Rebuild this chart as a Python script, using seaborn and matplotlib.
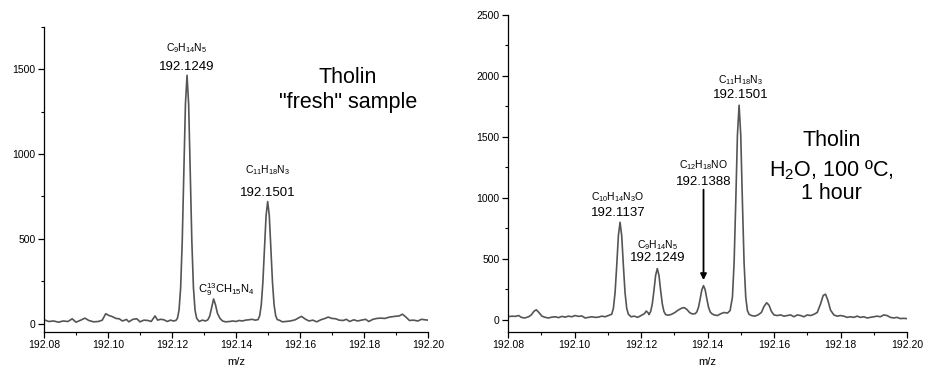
import numpy as np
import pandas as pd
import matplotlib
matplotlib.use("Agg")
import matplotlib.pyplot as plt
import seaborn as sns
from matplotlib.ticker import MultipleLocator, FormatStrFormatter

# ---------------- data ----------------
fresh_mz = [
    192.0800, 192.0815, 192.0830, 192.0845, 192.0860, 192.0875, 192.0888, 192.0900,
    192.0915, 192.0928, 192.0940, 192.0955, 192.0970, 192.0982, 192.0993, 192.1002,
    192.1012, 192.1025, 192.1035, 192.1045, 192.1058, 192.1065, 192.1078, 192.1090,
    192.1100, 192.1112, 192.1125, 192.1135, 192.1147, 192.1155, 192.1165, 192.1175,
    192.1185, 192.1195, 192.1205, 192.1212,
    192.1217, 192.1222, 192.1227, 192.1232, 192.1237, 192.1242, 192.1247, 192.1252,
    192.1257, 192.1262, 192.1267, 192.1272, 192.1277,
    192.1285, 192.1295, 192.1305, 192.1312, 192.1318, 192.1324, 192.1330, 192.1336,
    192.1342, 192.1350, 192.1358, 192.1368, 192.1380, 192.1390, 192.1400, 192.1410,
    192.1420, 192.1430, 192.1440, 192.1450, 192.1460,
    192.1469, 192.1474, 192.1479, 192.1484, 192.1489, 192.1494, 192.1499, 192.1504,
    192.1509, 192.1514, 192.1519, 192.1524, 192.1529,
    192.1535, 192.1545, 192.1555, 192.1570, 192.1585, 192.1597, 192.1605, 192.1615,
    192.1628, 192.1640, 192.1652, 192.1665, 192.1678, 192.1688, 192.1700, 192.1712,
    192.1722, 192.1735, 192.1745, 192.1755, 192.1768, 192.1780, 192.1792, 192.1805,
    192.1815, 192.1828, 192.1840, 192.1852, 192.1865, 192.1880, 192.1895, 192.1910,
    192.1920, 192.1930, 192.1942, 192.1955, 192.1968, 192.1980, 192.1990, 192.2000,
]
fresh_int = [
    22, 12, 15, 8, 15, 12, 28, 8,
    20, 32, 18, 10, 12, 20, 58, 48,
    42, 30, 28, 15, 24, 10, 25, 28,
    10, 20, 18, 12, 45, 20, 25, 22,
    12, 20, 15, 18,
    31, 79, 211, 486, 894, 1295, 1465, 1295,
    894, 486, 211, 79, 31,
    12, 20, 15, 22, 45, 95, 145, 110,
    60, 30, 15, 10, 12, 15, 12, 18,
    15, 20, 22, 25, 20,
    23, 46, 110, 244, 443, 637, 720, 637,
    443, 244, 110, 46, 23,
    20, 10, 12, 15, 22, 35, 42, 28,
    15, 20, 10, 22, 30, 38, 30, 28,
    20, 18, 25, 12, 22, 15, 20, 25,
    12, 25, 30, 32, 30, 38, 42, 45,
    55, 40, 18, 20, 15, 25, 22, 20,
]

heated_mz = [
    192.0800, 192.0812, 192.0822, 192.0832, 192.0840, 192.0850, 192.0862, 192.0870,
    192.0878, 192.0885, 192.0893, 192.0902, 192.0912, 192.0922, 192.0932, 192.0942,
    192.0952, 192.0962, 192.0972, 192.0982, 192.0992, 192.1002, 192.1012, 192.1022,
    192.1032, 192.1042, 192.1052, 192.1062, 192.1072, 192.1082, 192.1092, 192.1102,
    192.1112, 192.1117, 192.1122, 192.1127, 192.1132, 192.1137, 192.1142, 192.1147,
    192.1152, 192.1157, 192.1162,
    192.1170, 192.1180, 192.1190, 192.1200, 192.1210, 192.1216, 192.1222,
    192.1224, 192.1229, 192.1234, 192.1239, 192.1244, 192.1249, 192.1254, 192.1259,
    192.1264, 192.1269, 192.1274,
    192.1282, 192.1292, 192.1302, 192.1312, 192.1322, 192.1330, 192.1338, 192.1346,
    192.1354, 192.1360,
    192.1363, 192.1368, 192.1373, 192.1378, 192.1383, 192.1388, 192.1393, 192.1398,
    192.1403, 192.1408, 192.1413,
    192.1420, 192.1430, 192.1440, 192.1450, 192.1460, 192.1468,
    192.1475, 192.1480, 192.1485, 192.1490, 192.1495, 192.1500, 192.1505, 192.1510,
    192.1515, 192.1520, 192.1525,
    192.1532, 192.1542, 192.1552, 192.1562, 192.1570, 192.1578, 192.1585, 192.1592,
    192.1600, 192.1610, 192.1620, 192.1630, 192.1640, 192.1650, 192.1660, 192.1670,
    192.1680, 192.1690, 192.1700, 192.1710, 192.1720, 192.1730, 192.1740, 192.1748,
    192.1755, 192.1762, 192.1770, 192.1780, 192.1790, 192.1800, 192.1810, 192.1820,
    192.1830, 192.1840, 192.1850, 192.1860, 192.1870, 192.1880, 192.1890, 192.1900,
    192.1910, 192.1920, 192.1930, 192.1940, 192.1950, 192.1960, 192.1970, 192.1980,
    192.1990, 192.2000,
]
heated_int = [
    25, 30, 28, 35, 20, 15, 25, 40,
    70, 82, 60, 30, 20, 15, 22, 25,
    18, 28, 22, 30, 25, 35, 28, 32,
    15, 20, 25, 20, 22, 30, 25, 35,
    46, 95, 222, 445, 690, 800, 690, 445,
    222, 95, 46,
    25, 30, 20, 35, 50, 72, 55,
    43, 68, 131, 242, 365, 420, 365, 242,
    131, 68, 43,
    38, 45, 60, 80, 95, 100, 85, 60,
    48, 50,
    50, 65, 104, 172, 246, 280, 246, 172,
    104, 65, 50,
    40, 35, 50, 60, 55, 76,
    186, 468, 967, 1514, 1760, 1514, 967, 468,
    186, 76, 45,
    35, 30, 40, 60, 110, 140, 120, 70,
    40, 35, 40, 30, 35, 40, 25, 40,
    35, 25, 40, 35, 45, 60, 130, 200,
    210, 160, 80, 40, 30, 35, 30, 20,
    25, 20, 30, 20, 25, 15, 20, 25,
    30, 25, 40, 35, 20, 15, 20, 10,
    12, 10,
]

# peak labels
fresh_labels_mz = [192.1247, 192.1499]
fresh_labels_int = [1465, 720]
fresh_labels_formula = [r"C$_{9}$H$_{14}$N$_{5}$", r"C$_{11}$H$_{18}$N$_{3}$"]
fresh_labels_mass = ["192.1249", "192.1501"]

iso_label_mz = 192.1330
iso_label_int = 145
iso_label_text = r"C$_{9}^{13}$CH$_{15}$N$_{4}$"

heated_labels_mz = [192.1137, 192.1249, 192.1500]
heated_labels_int = [800, 420, 1760]
heated_labels_formula = [r"C$_{10}$H$_{14}$N$_{3}$O", r"C$_{9}$H$_{14}$N$_{5}$",
                         r"C$_{11}$H$_{18}$N$_{3}$"]
heated_labels_mass = ["192.1137", "192.1249", "192.1501"]

arrow_peak_mz = 192.1388
arrow_peak_int = 280
arrow_formula = r"C$_{12}$H$_{18}$NO"
arrow_mass = "192.1388"

xticks = [192.08, 192.10, 192.12, 192.14, 192.16, 192.18, 192.20]

# ---------------- style ----------------
sns.set_style("ticks")
plt.rcParams["font.family"] = ["Liberation Sans", "DejaVu Sans"]
plt.rcParams["mathtext.fontset"] = "custom"
plt.rcParams["mathtext.rm"] = "Liberation Sans"
plt.rcParams["mathtext.it"] = "Liberation Sans:italic"
plt.rcParams["mathtext.bf"] = "Liberation Sans:bold"
plt.rcParams["text.color"] = "black"
plt.rcParams["axes.labelcolor"] = "black"
plt.rcParams["xtick.color"] = "black"
plt.rcParams["ytick.color"] = "black"

LINE = "#555555"

fig = plt.figure(figsize=(9.33, 3.78), dpi=100)
ax1 = fig.add_axes([44 / 933, 1 - 332 / 378, 384 / 933, 305 / 378])
ax2 = fig.add_axes([508 / 933, 1 - 332 / 378, 399 / 933, 317 / 378])

df1 = pd.DataFrame({"mz": fresh_mz, "I": fresh_int})
df2 = pd.DataFrame({"mz": heated_mz, "I": heated_int})
sns.lineplot(data=df1, x="mz", y="I", ax=ax1, color=LINE, lw=1.2, estimator=None, sort=False)
sns.lineplot(data=df2, x="mz", y="I", ax=ax2, color=LINE, lw=1.2, estimator=None, sort=False)

for ax, ylim, ymaj in [(ax1, (-50, 1750), 500), (ax2, (-100, 2500), 500)]:
    ax.set_xlim(192.08, 192.20)
    ax.set_xticks(xticks)
    ax.xaxis.set_major_formatter(FormatStrFormatter("%.2f"))
    ax.xaxis.set_minor_locator(MultipleLocator(0.01))
    ax.set_yticks(list(range(0, int(ylim[1]) + 1, ymaj)))
    ax.yaxis.set_minor_locator(MultipleLocator(ymaj / 2))
    ax.set_ylim(*ylim)
    ax.tick_params(axis="both", which="major", direction="out", length=4, width=0.9,
                   labelsize=7.5, pad=2, colors="black")
    ax.tick_params(axis="both", which="minor", direction="out", length=2.5, width=0.8,
                   colors="black")
    for s in ["top", "right"]:
        ax.spines[s].set_visible(False)
    for s in ["left", "bottom"]:
        ax.spines[s].set_linewidth(0.9)
        ax.spines[s].set_color("black")
    ax.set_xlabel("m/z", fontsize=8, labelpad=5, color="black")
    ax.set_ylabel("")


def label_peak(ax, x, y, formula, mass, dy_formula, dy_mass, dx=0):
    ax.annotate(mass, xy=(x, y), xytext=(dx, dy_mass), textcoords="offset pixels",
                ha="center", va="center", fontsize=9.5, color="black")
    ax.annotate(formula, xy=(x, y), xytext=(dx, dy_formula), textcoords="offset pixels",
                ha="center", va="center", fontsize=7.5, color="black")


# left panel labels
label_peak(ax1, fresh_labels_mz[0], fresh_labels_int[0], fresh_labels_formula[0],
           fresh_labels_mass[0], 27, 8)
label_peak(ax1, fresh_labels_mz[1], fresh_labels_int[1], fresh_labels_formula[1],
           fresh_labels_mass[1], 31, 9)
ax1.annotate(iso_label_text, xy=(iso_label_mz, iso_label_int), xytext=(13, 9),
             textcoords="offset pixels", ha="center", va="center", fontsize=8,
             color="black")
ax1.text(0.792, 0.833, "Tholin", transform=ax1.transAxes, ha="center", va="center",
         fontsize=15.5, color="black")
ax1.text(0.792, 0.751, "\"fresh\" sample", transform=ax1.transAxes, ha="center",
         va="center", fontsize=15.5, color="black")

# right panel labels
label_peak(ax2, heated_labels_mz[0], heated_labels_int[0], heated_labels_formula[0],
           heated_labels_mass[0], 25, 9, -2)
label_peak(ax2, heated_labels_mz[1], heated_labels_int[1], heated_labels_formula[1],
           heated_labels_mass[1], 23, 11)
label_peak(ax2, heated_labels_mz[2], heated_labels_int[2], heated_labels_formula[2],
           heated_labels_mass[2], 25, 10)
label_peak(ax2, arrow_peak_mz, arrow_peak_int, arrow_formula, arrow_mass, 121, 104)
ax2.annotate("", xy=(arrow_peak_mz, arrow_peak_int), xytext=(0, 96),
             textcoords="offset pixels",
             arrowprops=dict(arrowstyle="-|>", color="black", lw=1.3,
                             mutation_scale=9, shrinkA=0, shrinkB=4))
ax2.text(0.811, 0.605, "Tholin", transform=ax2.transAxes, ha="center", va="center",
         fontsize=15.5, color="black")
ax2.text(0.811, 0.51, "H$_2$O, 100 \u00baC,", transform=ax2.transAxes, ha="center",
         va="center", fontsize=15.5, color="black")
ax2.text(0.811, 0.437, "1 hour", transform=ax2.transAxes, ha="center", va="center",
         fontsize=15.5, color="black")

fig.savefig("out.png", dpi=100, facecolor="white")
